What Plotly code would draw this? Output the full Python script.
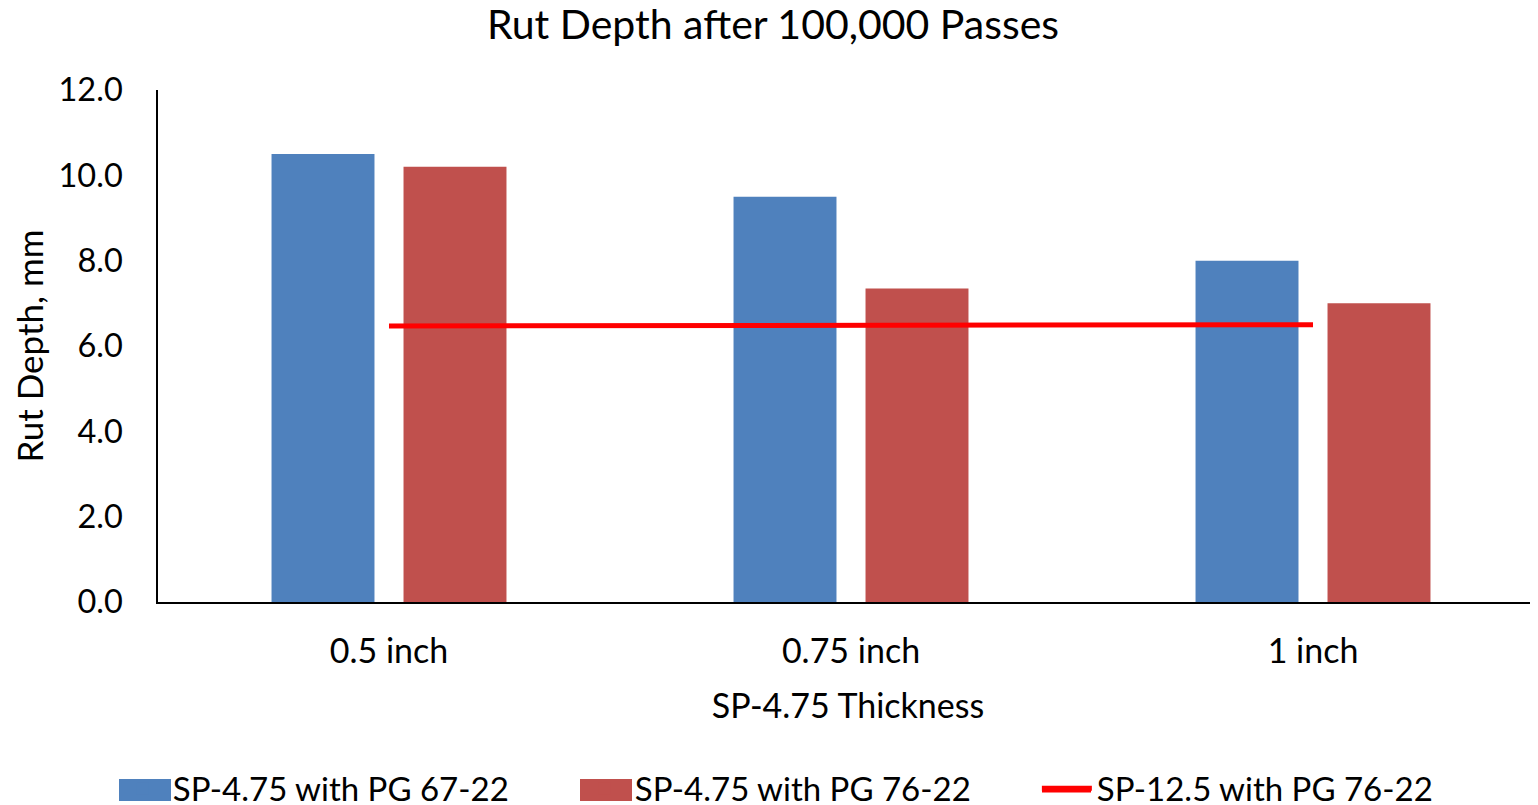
import plotly.graph_objects as go

categories = ["0.5 inch", "0.75 inch", "1 inch"]
sp475_pg6722 = [10.5, 9.5, 8.0]
sp475_pg7622 = [10.2, 7.35, 7.0]
sp125_pg7622 = [6.47, 6.48, 6.5]
y_ticks = [0, 2, 4, 6, 8, 10, 12]

FONT = "Lato"
BLUE, RED, LINE_RED = "#4F81BD", "#C0504D", "#FF0000"
W, H = 1530, 797  # page body has an 8px margin
ML, MT, MB = 150, 82, 203
PW, PH = W - ML, H - MT - MB

fig = go.Figure()
fig.add_trace(go.Bar(x=categories, y=sp475_pg6722, name="SP-4.75 with PG 67-22",
                     marker=dict(color=BLUE, line=dict(width=0))))
fig.add_trace(go.Bar(x=categories, y=sp475_pg7622, name="SP-4.75 with PG 76-22",
                     marker=dict(color=RED, line=dict(width=0))))
fig.add_trace(go.Scatter(x=categories, y=sp125_pg7622, name="SP-12.5 with PG 76-22",
                         mode="lines", line=dict(color=LINE_RED, width=5)))


def px_x(fx):
    return (fx - ML) / PW


def px_y(fy):
    return (H - MB - fy) / PH


# wider legend swatches (Excel style), drawn over the legend's own small keys
shapes = []
for x0, x1, col in [(111, 163, BLUE), (572, 624, RED)]:
    shapes.append(dict(type="rect", xref="paper", yref="paper",
                       x0=px_x(x0), x1=px_x(x1), y0=px_y(793), y1=px_y(771),
                       fillcolor=col, line=dict(width=0), layer="above"))
shapes.append(dict(type="line", xref="paper", yref="paper",
                   x0=px_x(1034), x1=px_x(1083), y0=px_y(782), y1=px_y(782),
                   line=dict(color=LINE_RED, width=5), layer="above"))

fig.update_layout(
    width=W, height=H,
    margin=dict(l=ML, r=0, t=MT, b=MB, autoexpand=False),
    paper_bgcolor="white", plot_bgcolor="white",
    font=dict(family=FONT, size=33, color="black"),
    title=dict(text="Rut Depth after 100,000 Passes", x=0.5, xref="container", xanchor="center",
               y=1 - 17 / H, yref="container", yanchor="middle", font=dict(size=41)),
    barmode="group", bargap=0.4286, bargroupgap=0.22,
    showlegend=True,
    legend=dict(orientation="h", x=-0.0327, xanchor="left", y=-0.364, yanchor="middle",
                font=dict(size=33), entrywidth=397, itemwidth=50, bgcolor="rgba(0,0,0,0)",
                traceorder="normal"),
    shapes=shapes,
)
fig.update_xaxes(
    type="category", range=[-0.5, 2.487], showline=True, linecolor="black", linewidth=1.5,
    showgrid=False, ticks="outside", ticklen=18, tickcolor="rgba(0,0,0,0)",
    tickfont=dict(size=34), automargin=False,
    title=dict(text="SP-4.75 Thickness", standoff=26, font=dict(size=34)),
)
fig.update_yaxes(
    range=[0, 12], tickvals=y_ticks, tickformat=".1f", showline=True, linecolor="black",
    linewidth=1.5, showgrid=False, zeroline=False, ticks="outside", ticklen=27,
    tickcolor="rgba(0,0,0,0)", tickfont=dict(size=32.5), automargin=False,
    title=dict(text="Rut Depth, mm", standoff=13, font=dict(size=35)),
)

fig.write_html("out.html")
